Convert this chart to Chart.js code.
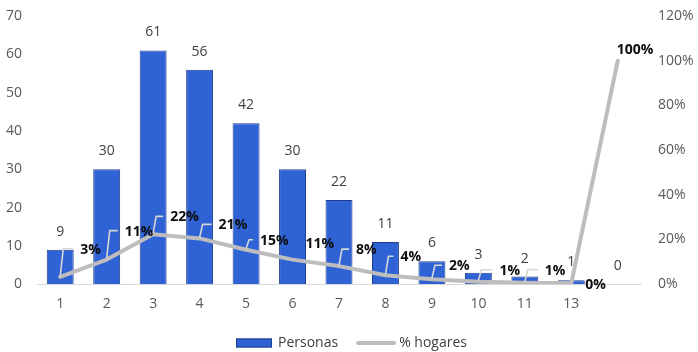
<!DOCTYPE html>
<html>
<head>
<meta charset="utf-8">
<script src="https://cdn.jsdelivr.net/npm/chart.js@4.4.0/dist/chart.umd.min.js"></script>
<style>
  html, body { margin: 0; padding: 0; background: #ffffff; }
  #wrap { width: 698px; height: 352px; position: relative; }
</style>
</head>
<body>
<div id="wrap"><canvas id="chart"></canvas></div>
<script>
// Household size distribution
const categories = ['1', '2', '3', '4', '5', '6', '7', '8', '9', '10', '11', '13', ''];
const personas = [9, 30, 61, 56, 42, 30, 22, 11, 6, 3, 2, 1, 0];
const hogaresPct = [3.3, 11.0, 22.3, 20.5, 15.4, 11.0, 8.1, 4.0, 2.2, 1.1, 0.7, 0.4, 100];
const leftTicks = [0, 10, 20, 30, 40, 50, 60, 70];
const rightTicks = [0, 20, 40, 60, 80, 100, 120];

const FONT = '"Open Sans", "Liberation Sans", sans-serif';
const BAR_FILL = '#2e62d5';
const BAR_EDGE = '#1f3f8c';
const LINE_COLOR = '#bdbdbd';

// Placement of the percentage labels: [dx, dy, leader line]
const pctLabelPlacement = [
  [20, -27, true], [18, -28, true], [17, -17, true], [19, -13, true],
  [14, -9, true], [13, -16, false], [17, -16, true], [15, -18, true],
  [17, -13, true], [21, -11, true], [20, -12, true], [14, 2, false],
  [-1, -11, false]
];

const valueLabels = {
  id: 'valueLabels',
  afterDatasetsDraw(chart) {
    const ctx = chart.ctx;
    ctx.save();
    // bar values above each bar
    const barMeta = chart.getDatasetMeta(0);
    ctx.font = '14px ' + FONT;
    ctx.fillStyle = '#404040';
    ctx.textAlign = 'center';
    ctx.textBaseline = 'middle';
    barMeta.data.forEach((bar, i) => {
      ctx.fillText(String(personas[i]), bar.x, bar.y - 18);
    });
    // percentage labels with leader lines
    const lineMeta = chart.getDatasetMeta(1);
    lineMeta.data.forEach((pt, i) => {
      const [dx, dy, leader] = pctLabelPlacement[i];
      const lx = pt.x + dx;
      const ly = pt.y + dy;
      if (leader) {
        ctx.strokeStyle = '#d6d6d6';
        ctx.lineWidth = 1.6;
        ctx.beginPath();
        ctx.moveTo(pt.x, pt.y - 1);
        ctx.lineTo(pt.x + 3, ly - 1);
        ctx.lineTo(lx - 7, ly - 1);
        ctx.stroke();
      }
      ctx.font = 'bold 14px ' + FONT;
      ctx.fillStyle = '#0d0d0d';
      ctx.textAlign = 'left';
      ctx.textBaseline = 'middle';
      ctx.fillText(Math.round(hogaresPct[i]) + '%', lx, ly);
    });
    ctx.restore();
  }
};

// Legend row drawn under the x axis
const bottomLegend = {
  id: 'bottomLegend',
  afterDraw(chart) {
    const ctx = chart.ctx;
    const names = chart.data.datasets.map(d => d.label);
    ctx.save();
    ctx.font = '14px ' + FONT;
    const w0 = ctx.measureText(names[0]).width;
    const w1 = ctx.measureText(names[1]).width;
    const boxW = 36, lineW = 40;
    const total = boxW + 6 + w0 + 18 + lineW + 3 + w1;
    let x = Math.round(351 - total / 2);
    const y = chart.height - 9;
    ctx.fillStyle = BAR_FILL;
    ctx.strokeStyle = BAR_EDGE;
    ctx.lineWidth = 1;
    ctx.fillRect(x, y - 4.5, boxW, 9);
    ctx.strokeRect(x + 0.5, y - 4, boxW - 1, 8);
    x += boxW + 6;
    ctx.fillStyle = '#404040';
    ctx.textAlign = 'left';
    ctx.textBaseline = 'middle';
    ctx.fillText(names[0], x, y);
    x += w0 + 18;
    ctx.strokeStyle = LINE_COLOR;
    ctx.lineWidth = 4;
    ctx.lineCap = 'round';
    ctx.beginPath();
    ctx.moveTo(x + 2, y);
    ctx.lineTo(x + lineW - 2, y);
    ctx.stroke();
    x += lineW + 3;
    ctx.fillText(names[1], x, y);
    ctx.restore();
  }
};

function fixAxisBox(width) {
  return function (scale) {
    scale.width = width;
    scale.paddingTop = 0;
    scale.paddingBottom = 0;
  };
}

new Chart(document.getElementById('chart'), {
  type: 'bar',
  data: {
    labels: categories,
    datasets: [
      {
        label: 'Personas',
        data: personas,
        yAxisID: 'y',
        backgroundColor: BAR_FILL,
        borderColor: BAR_EDGE,
        borderWidth: 1,
        barPercentage: 0.58,
        categoryPercentage: 1,
        order: 2
      },
      {
        type: 'line',
        label: '% hogares',
        data: hogaresPct,
        yAxisID: 'y1',
        borderColor: LINE_COLOR,
        backgroundColor: LINE_COLOR,
        borderWidth: 4,
        borderCapStyle: 'round',
        borderJoinStyle: 'round',
        pointRadius: 0,
        tension: 0,
        order: 1
      }
    ]
  },
  options: {
    responsive: true,
    maintainAspectRatio: false,
    animation: false,
    layout: { padding: { top: 16, right: 0, left: 0, bottom: 29 } },
    plugins: {
      tooltip: { enabled: false },
      legend: { display: false }
    },
    scales: {
      x: {
        grid: { display: false, drawTicks: false },
        border: { display: true, color: '#d9d9d9', width: 1 },
        ticks: { color: '#595959', font: { family: FONT, size: 14 }, padding: 11 }
      },
      y: {
        position: 'left',
        min: 0, max: 70,
        afterBuildTicks(scale) { scale.ticks = leftTicks.map(v => ({ value: v })); },
        afterFit: fixAxisBox(37),
        grid: { display: false, drawTicks: false },
        border: { display: false },
        ticks: { color: '#595959', font: { family: FONT, size: 14 }, padding: 15 }
      },
      y1: {
        position: 'right',
        min: 0, max: 120,
        afterBuildTicks(scale) { scale.ticks = rightTicks.map(v => ({ value: v })); },
        afterFit: fixAxisBox(57),
        grid: { display: false, drawTicks: false },
        border: { display: false },
        ticks: {
          color: '#595959', font: { family: FONT, size: 14 }, padding: 17,
          callback: v => v + '%'
        }
      }
    }
  },
  plugins: [valueLabels, bottomLegend]
});
</script>
</body>
</html>
